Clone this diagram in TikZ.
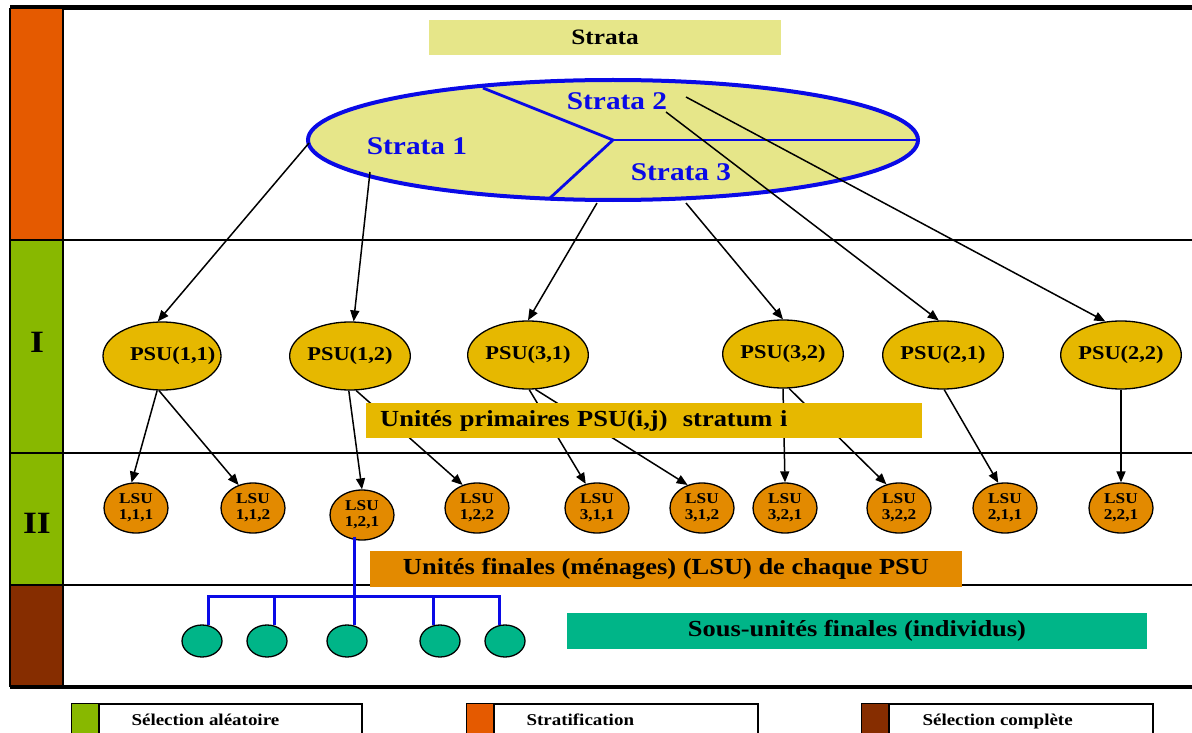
\documentclass[tikz,border=0pt]{standalone}
\usepackage{fontspec}
\setmainfont{Liberation Serif}[FakeStretch=1.15]
\usetikzlibrary{shapes.geometric,arrows.meta,calc}
\definecolor{khaki}{RGB}{230,230,137}
\definecolor{psugold}{RGB}{230,184,0}
\definecolor{lsuorange}{RGB}{227,138,0}
\definecolor{indgreen}{RGB}{0,181,136}
\definecolor{colorange}{RGB}{229,90,0}
\definecolor{colgreen}{RGB}{136,184,0}
\definecolor{colbrown}{RGB}{134,45,0}
\definecolor{strblue}{RGB}{10,10,230}
\tikzset{
  fs/.style={font=\fontsize{#1}{#1}\selectfont\bfseries},
  psu/.style={ellipse, draw=black, line width=1.3pt, fill=psugold, minimum width=118pt, minimum height=68pt, inner sep=0pt, fs=19.5},
  lsu/.style={ellipse, draw=black, line width=1.3pt, fill=lsuorange, minimum width=64pt, minimum height=50pt, inner sep=0pt, align=center, font=\fontsize{15}{16}\selectfont\bfseries},
  ind/.style={ellipse, draw=black, line width=1.3pt, fill=indgreen, minimum width=40pt, minimum height=32pt, inner sep=0pt},
  arr/.style={line width=1.5pt, -{Triangle[length=11pt,width=9pt]}},
  tree/.style={draw=strblue, line width=3pt},
  lbox/.style={inner sep=0pt, fs=23},
  legbox/.style={draw=black, line width=1.3pt, fill=white},
  legtxt/.style={anchor=base west, fs=16.5},
  strtxt/.style={text=strblue, fs=25.5},
}
\begin{document}
\begin{tikzpicture}[x=1pt,y=-1pt]
\clip (0,0) rectangle (1192,733);
\fill[white] (0,0) rectangle (1192,733);
% left column
\fill[colorange] (10,8) rectangle (63,240);
\fill[colgreen] (10,240) rectangle (63,453);
\fill[colgreen] (10,453) rectangle (63,585);
\fill[colbrown] (10,585) rectangle (63,687);
\draw[line width=1.2pt] (10,8) -- (10,687) (63,8) -- (63,687);
\draw[line width=1.2pt] (10,240) -- (1192,240) (10,453) -- (1192,453) (10,585) -- (1192,585);
\draw[line width=1pt] (63,10) -- (1192,10);
\draw[line width=3.5pt] (10,7) -- (1192,7);
\draw[line width=3.5pt] (10,687) -- (1192,687);
\node[fs=31] (r1) at (37,342) {I};
\node[fs=31] (r2) at (37,523) {II};
% strata title
\node[fill=khaki, minimum width=352pt, minimum height=35pt, inner sep=0pt, fs=22] (title) at (605,37.5) {Strata};
% big ellipse
\node[ellipse, draw=strblue, line width=4pt, fill=khaki, minimum width=610pt, minimum height=120pt, inner sep=0pt] (strata) at (613,140) {};
\draw[strblue, line width=2.8pt] (483,88) -- (613,140) -- (550,198);
\draw[strblue, line width=2.8pt] (613,140) -- (strata.east);
\node[strtxt] (s1) at (417,146) {Strata 1};
\node[strtxt] (s2) at (617,101) {Strata 2};
\node[strtxt] (s3) at (681,172) {Strata 3};
% start points of arrows
\coordinate (a1) at (309,143);
\coordinate (a2) at (370,172);
\coordinate (a3) at (597,203);
\coordinate (a4) at (686,203);
\coordinate (a5) at (666,112);
\coordinate (a6) at (686,97);
% PSU nodes
\node[psu] (psu11) at (162,356) {\makebox[82pt][l]{\hspace*{9pt}PSU(1,1)}};
\node[psu] (psu12) at (350,356) {PSU(1,2)};
\node[psu] (psu31) at (528,355) {PSU(3,1)};
\node[psu] (psu32) at (783,354) {PSU(3,2)};
\node[psu] (psu21) at (943,355) {PSU(2,1)};
\node[psu] (psu22) at (1121,355) {PSU(2,2)};
\draw[arr] (a1) -- (psu11.97);
\draw[arr] (a2) -- (psu12.84);
\draw[arr] (a3) -- (psu31.90);
\draw[arr] (a4) -- (psu32.90);
\draw[arr] (a5) -- (psu21.97);
\draw[arr] (a6) -- (psu22.115);
% LSU nodes
\node[lsu] (l111) at (136,508) {LSU\\1,1,1};
\node[lsu] (l112) at (253,508) {LSU\\1,1,2};
\node[lsu] (l121) at (362,515) {LSU\\1,2,1};
\node[lsu] (l122) at (477,508) {LSU\\1,2,2};
\node[lsu] (l311) at (597,508) {LSU\\3,1,1};
\node[lsu] (l312) at (702,508) {LSU\\3,1,2};
\node[lsu] (l321) at (785,508) {LSU\\3,2,1};
\node[lsu] (l322) at (899,508) {LSU\\3,2,2};
\node[lsu] (l211) at (1005,508) {LSU\\2,1,1};
\node[lsu] (l221) at (1121,508) {LSU\\2,2,1};
\draw[arr] (psu11.262) -- (l111.100);
\draw[arr] (psu11.265) -- (l112.122);
\draw[arr] (psu12.268) -- (l121.north);
\draw[arr] (psu12.280) -- (l122.122);
\draw[arr] (psu31.272) -- (l311.115);
\draw[arr] (psu31.282) -- (l312.122);
\draw[arr] (psu32.270) -- (l321.90);
\draw[arr] (psu32.280) -- (l322.118);
\draw[arr] (psu21.272) -- (l211.105);
\draw[arr] (psu22.south) -- (l221.north);
% label PSU
\node[lbox, fill=psugold, anchor=west, minimum height=35pt, text width=528pt, inner xsep=14pt, align=left] (labpsu) at (366,420.5) {Unités primaires PSU(i,j)\ \ stratum i};
% label LSU
\node[lbox, fill=lsuorange, minimum width=592pt, minimum height=36pt] (lablsu) at (666,569) {Unités finales (ménages) (LSU) de chaque PSU};
% individuals
\node[ind] (c1) at (202,641) {};
\node[ind] (c2) at (267,641) {};
\node[ind] (c3) at (347,641) {};
\node[ind] (c4) at (440,641) {};
\node[ind] (c5) at (505,641) {};
\coordinate (b1) at (208,596);
\coordinate (b2) at (274,596);
\coordinate (b3) at (354,596);
\coordinate (b4) at (433,596);
\coordinate (b5) at (499,596);
\draw[tree] ($(b3 |- l121.south)+(0,-4)$) -- (b3);
\draw[tree, line cap=rect] (b1) -- (b5);
\draw[tree] (b1) -- ($(b1 |- c1.north)+(0,1)$);
\draw[tree] (b2) -- ($(b2 |- c2.north)+(0,1)$);
\draw[tree] (b3) -- ($(b3 |- c3.north)+(0,1)$);
\draw[tree] (b4) -- ($(b4 |- c4.north)+(0,1)$);
\draw[tree] (b5) -- ($(b5 |- c5.north)+(0,1)$);
\node[lbox, fill=indgreen, minimum width=580pt, minimum height=36pt] (labind) at (857,631) {Sous-unités finales (individus)};
% legend
\draw[legbox] (72,704) rectangle (362,745);
\fill[colgreen] (72,704) rectangle (99,745);
\draw[line width=1.3pt] (99,704) -- (99,745);
\node[legtxt] (lg1) at (128,725) {Sélection aléatoire};
\draw[legbox] (467,704) rectangle (758,745);
\fill[colorange] (467,704) rectangle (494,745);
\draw[line width=1.3pt] (494,704) -- (494,745);
\node[legtxt] (lg2) at (523,725) {Stratification};
\draw[legbox] (862,704) rectangle (1153,745);
\fill[colbrown] (862,704) rectangle (889,745);
\draw[line width=1.3pt] (889,704) -- (889,745);
\node[legtxt] (lg3) at (919,725) {Sélection complète};
\end{tikzpicture}
\end{document}
